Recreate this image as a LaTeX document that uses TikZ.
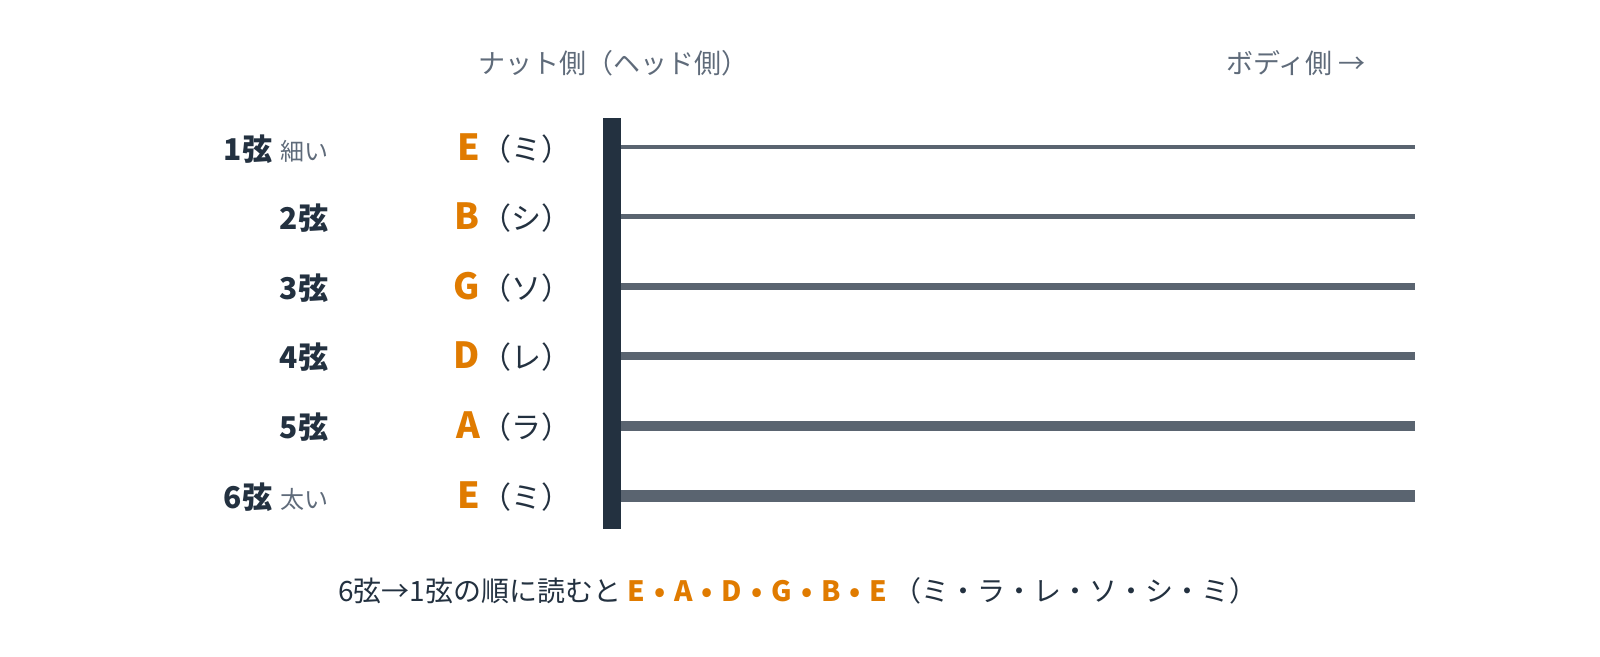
\documentclass[tikz,border=0pt]{standalone}
\usepackage{fontspec}
\setmainfont{Noto Sans CJK JP}
\definecolor{navy}{HTML}{233140}
\definecolor{strg}{HTML}{5A6470}
\definecolor{orng}{HTML}{E07B00}
\definecolor{grayt}{HTML}{5F6B7A}
\begin{document}
\begin{tikzpicture}[x=1pt,y=-1pt,
  every node/.style={inner sep=0pt,outer sep=0pt},
  strlabel/.style={anchor=base east,font=\fontsize{30}{36}\selectfont\bfseries,text=navy},
  notelabel/.style={anchor=base east,font=\fontsize{36}{42}\selectfont\bfseries,text=orng},
  kanalabel/.style={anchor=base west,font=\fontsize{30}{36}\selectfont,text=navy},
  sidelabel/.style={font=\fontsize{27}{31}\selectfont,text=grayt},
  stringline/.style={draw=strg}]
\useasboundingbox (0,0) rectangle (1600,656);
\newcommand{\thin}[1]{\hspace{8pt}{\fontsize{24}{28}\selectfont\mdseries\color{grayt}#1}}
\newcommand{\bsep}{\hspace{9pt}•\hspace{9pt}}
% nut
\node[fill=navy,minimum width=18pt,minimum height=411pt,anchor=north west] (nut) at (603,118) {};
% top labels
\node[sidelabel,anchor=base] (nutside) at (613,73) {ナット側（ヘッド側）};
\node[sidelabel,anchor=base east] (bodyside) at (1366,73) {ボディ側 →};
% strings
\foreach \i/\y/\w in {1/147/4,2/216.8/5,3/286.6/6.4,4/356.4/8,5/426.2/9.6,6/496/12}{
  \coordinate (s\i a) at (621,\y);
  \coordinate (s\i b) at (1415,\y);
  \draw[stringline,line width=\w pt] (s\i a) -- (s\i b);
}
% string names
\node[strlabel] (n1) at (328,160) {1弦\thin{細い}};
\node[strlabel] (n2) at (328,229.3) {2弦};
\node[strlabel] (n3) at (328,299) {3弦};
\node[strlabel] (n4) at (328,368.8) {4弦};
\node[strlabel] (n5) at (328,438.6) {5弦};
\node[strlabel] (n6) at (328,508.5) {6弦\thin{太い}};
% notes
\foreach \i/\y/\n/\k in {1/160/E/ミ,2/229.3/B/シ,3/299/G/ソ,4/368.8/D/レ,5/438.6/A/ラ,6/508.5/E/ミ}{
  \node[notelabel] (l\i) at (480,\y) {\n};
  \node[kanalabel] (k\i) at (481,\y) {（\k）};
}
% bottom line
\node[anchor=base,font=\fontsize{28}{32}\selectfont,text=navy] (summary) at (798,601)
  {6弦→1弦の順に読むと {\bfseries\color{orng}E\bsep A\bsep D\bsep G\bsep B\bsep E} （ミ・ラ・レ・ソ・シ・ミ）};
\end{tikzpicture}
\end{document}
